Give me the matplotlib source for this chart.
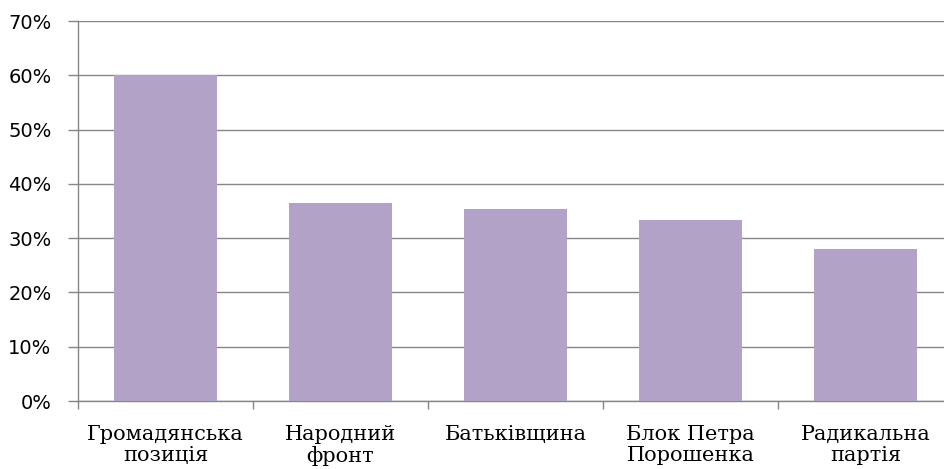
import matplotlib.pyplot as plt
from matplotlib.ticker import FuncFormatter

parties = ["Громадянська\nпозиція", "Народний\nфронт", "Батьківщина",
           "Блок Петра\nПорошенка", "Радикальна\nпартія"]
shares = [60.0, 36.5, 35.3, 33.4, 28.0]

fig = plt.figure(figsize=(9.44, 4.69), dpi=100)
# the plot area runs a little past the right edge of the image
ax = fig.add_axes([78 / 944, 68 / 469, 875 / 944, 380 / 469])

pos = range(len(parties))
ax.bar(pos, shares, width=0.585, color='#B3A2C7', zorder=3)

ax.set_xlim(-0.5, len(parties) - 0.5)
ax.set_ylim(0, 70)
ax.set_yticks(range(0, 71, 10))
ax.yaxis.set_major_formatter(FuncFormatter(lambda v, p: f"{int(v)}%"))
ax.tick_params(axis='y', labelsize=14, length=7, width=1, color='#868686', pad=12)
ax.grid(axis='y', color='#868686', lw=1, zorder=0)

ax.set_xticks(list(pos))
ax.set_xticklabels(parties, family='DejaVu Serif', fontsize=15, linespacing=1.1)
ax.tick_params(axis='x', length=0, pad=17.5)
ax.set_xticks([i - 0.5 for i in range(len(parties) + 1)], minor=True)
ax.tick_params(axis='x', which='minor', length=6, width=1, color='#868686')

for side in ['top', 'right']:
    ax.spines[side].set_visible(False)
for side in ['left', 'bottom']:
    ax.spines[side].set_color('#868686')
    ax.spines[side].set_linewidth(1)

plt.savefig('out.png', dpi=100)
